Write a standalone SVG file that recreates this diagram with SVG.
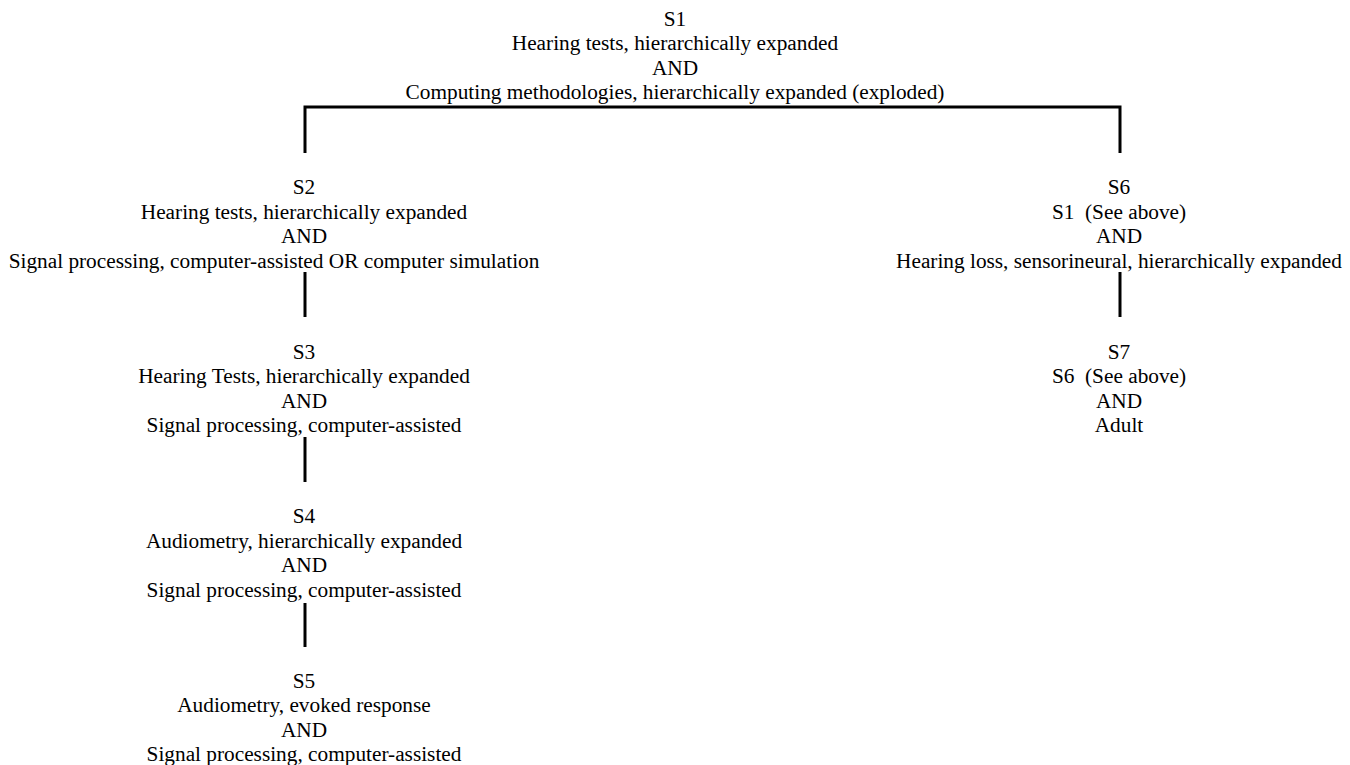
<svg xmlns="http://www.w3.org/2000/svg" width="1350" height="765" viewBox="0 0 1350 765">
<style>
text{font-family:"Liberation Serif","Times New Roman",serif;font-size:21.3px;fill:#000;text-anchor:middle;white-space:pre}
.c{stroke:#000;stroke-width:3;fill:none}
</style>
<rect width="1350" height="765" fill="#fff"/>
<g id="connectors">
<path class="c" d="M305 153 V107 H1120 V153"/>
<line class="c" x1="305" y1="272" x2="305" y2="317"/>
<line class="c" x1="305" y1="437" x2="305" y2="482"/>
<line class="c" x1="305" y1="603" x2="305" y2="647"/>
<line class="c" x1="1120" y1="272" x2="1120" y2="317"/>
</g>
<g id="S1">
<text x="675" y="25.5">S1</text>
<text x="675" y="50.1">Hearing tests, hierarchically expanded</text>
<text x="675" y="74.7">AND</text>
<text x="675" y="99.3">Computing methodologies, hierarchically expanded (exploded)</text>
</g>
<g id="S2">
<text x="304" y="194">S2</text>
<text x="304" y="218.6">Hearing tests, hierarchically expanded</text>
<text x="304" y="243.2">AND</text>
<text x="274" y="267.8">Signal processing, computer-assisted OR computer simulation</text>
</g>
<g id="S3">
<text x="304" y="358.5">S3</text>
<text x="304" y="383.1">Hearing Tests, hierarchically expanded</text>
<text x="304" y="407.7">AND</text>
<text x="304" y="432.3">Signal processing, computer-assisted</text>
</g>
<g id="S4">
<text x="304" y="523">S4</text>
<text x="304" y="547.6">Audiometry, hierarchically expanded</text>
<text x="304" y="572.2">AND</text>
<text x="304" y="596.8">Signal processing, computer-assisted</text>
</g>
<g id="S5">
<text x="304" y="687.5">S5</text>
<text x="304" y="712.1">Audiometry, evoked response</text>
<text x="304" y="736.7">AND</text>
<text x="304" y="761.3">Signal processing, computer-assisted</text>
</g>
<g id="S6">
<text x="1119" y="194">S6</text>
<text x="1119" y="218.6">S1  (See above)</text>
<text x="1119" y="243.2">AND</text>
<text x="1119" y="267.8">Hearing loss, sensorineural, hierarchically expanded</text>
</g>
<g id="S7">
<text x="1119" y="358.5">S7</text>
<text x="1119" y="383.1">S6  (See above)</text>
<text x="1119" y="407.7">AND</text>
<text x="1119" y="432.3">Adult</text>
</g>
</svg>
